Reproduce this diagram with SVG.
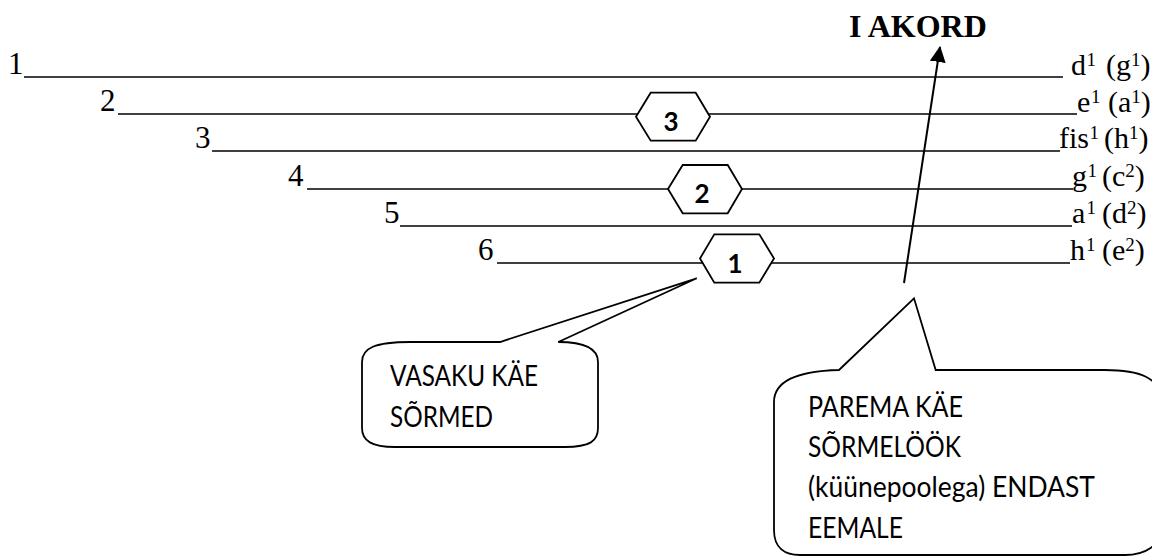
<svg xmlns="http://www.w3.org/2000/svg" width="1152" height="558" viewBox="0 0 1152 558">
<style>
.str{stroke:#000;stroke-width:1.4;fill:none}
.tnr{font-family:"Liberation Serif","Times New Roman",serif;font-size:30px;fill:#000}
.num{font-size:31px}
.sup{font-size:19px}
.hex{fill:#fff;stroke:#000;stroke-width:1.8}
.hexnum{font-family:Lato,"Open Sans",sans-serif;font-weight:bold;font-size:26px;fill:#000;text-anchor:middle}
.call{fill:#fff;stroke:#000;stroke-width:1.8;stroke-linejoin:miter}
.ctext{font-family:Lato,"Open Sans",sans-serif;font-size:28.5px;fill:#000}
.title{font-family:"Liberation Serif","Times New Roman",serif;font-weight:bold;font-size:32px;fill:#000}
.arrow{stroke:#000;stroke-width:2;fill:none}
</style>
<defs>
<marker id="ah" markerUnits="userSpaceOnUse" markerWidth="16" markerHeight="16" refX="15" refY="8" orient="auto">
<path d="M0,0 L16,8 L0,16 Z" fill="#000"/>
</marker>
</defs>
<rect width="1152" height="558" fill="#fff"/>

<g id="title"><text class="title" x="849" y="37">I AKORD</text></g>

<g id="strings">
<g id="string1">
<text class="tnr num" x="8" y="74">1</text>
<line class="str" x1="24" y1="77" x2="1063" y2="77"/>
<text class="tnr" y="74.5"><tspan x="1071">d</tspan><tspan class="sup" x="1086.5" dy="-9">1</tspan><tspan x="1106" dy="9">(g</tspan><tspan class="sup" dy="-9">1</tspan><tspan dy="9">)</tspan></text>
</g>
<g id="string2">
<text class="tnr num" x="100" y="111">2</text>
<line class="str" x1="118" y1="114" x2="1077" y2="114"/>
<text class="tnr" y="111.5"><tspan x="1077">e</tspan><tspan class="sup" x="1091" dy="-9">1</tspan><tspan x="1108" dy="9">(a</tspan><tspan class="sup" dy="-9">1</tspan><tspan dy="9">)</tspan></text>
</g>
<g id="string3">
<text class="tnr num" x="195" y="148">3</text>
<line class="str" x1="212" y1="151" x2="1060" y2="151"/>
<text class="tnr" y="148"><tspan x="1059">fis</tspan><tspan class="sup" x="1089.5" dy="-9">1</tspan><tspan x="1104" dy="9">(h</tspan><tspan class="sup" dy="-9">1</tspan><tspan dy="9">)</tspan></text>
</g>
<g id="string4">
<text class="tnr num" x="288" y="186">4</text>
<line class="str" x1="307" y1="189" x2="1073" y2="189"/>
<text class="tnr" y="186"><tspan x="1072">g</tspan><tspan class="sup" x="1087.5" dy="-9">1</tspan><tspan x="1102" dy="9">(c</tspan><tspan class="sup" dy="-9">2</tspan><tspan dy="9">)</tspan></text>
</g>
<g id="string5">
<text class="tnr num" x="384" y="223">5</text>
<line class="str" x1="400" y1="226" x2="1072" y2="226"/>
<text class="tnr" y="223"><tspan x="1072">a</tspan><tspan class="sup" x="1086.5" dy="-9">1</tspan><tspan x="1102" dy="9">(d</tspan><tspan class="sup" dy="-9">2</tspan><tspan dy="9">)</tspan></text>
</g>
<g id="string6">
<text class="tnr num" x="478" y="260">6</text>
<line class="str" x1="497" y1="263" x2="1070" y2="263"/>
<text class="tnr" y="260"><tspan x="1070">h</tspan><tspan class="sup" x="1086" dy="-9">1</tspan><tspan x="1102" dy="9">(e</tspan><tspan class="sup" dy="-9">2</tspan><tspan dy="9">)</tspan></text>
</g>
</g>

<g id="finger3">
<polygon class="hex" points="636,116.7 650.7,92.7 695.7,92.7 710,116.7 695.7,140.7 650.7,140.7"/>
<text class="hexnum" x="671" y="131">3</text>
</g>
<g id="finger2">
<polygon class="hex" points="668,189 682.7,165 727.7,165 742,189 727.7,213.3 682.7,213.3"/>
<text class="hexnum" x="702" y="203">2</text>
</g>
<g id="finger1">
<polygon class="hex" points="700,258.5 714.3,234.3 759.3,234.3 774,258.5 759.3,282.7 714.3,282.7"/>
<text class="hexnum" x="735" y="273">1</text>
</g>

<g id="callout-left">
<path class="call" d="M362,362 C362,348 375,342 410,342 L500,342 L696.7,278.3 L558.3,342 C588,342 598,350 598,362 L598,428 C598,441 590,447 565,447 L395,447 C372,447 362,441 362,428 Z"/>
<text class="ctext" x="390" y="386" textLength="148" lengthAdjust="spacingAndGlyphs">VASAKU KÄE</text>
<text class="ctext" x="390" y="426.7" textLength="103" lengthAdjust="spacingAndGlyphs">SÕRMED</text>
</g>

<g id="callout-right">
<path class="call" d="M774,402 C774,380 800,371 839,370 L914,298.3 L935.7,370 L1105,370 C1140,370 1160,378 1162,400 L1162,528 C1160,546 1145,555 1125,555 L800,555 C785,555 774,548 774,530 Z"/>
<text class="ctext" x="808" y="416.7" textLength="155" lengthAdjust="spacingAndGlyphs">PAREMA KÄE</text>
<text class="ctext" x="808" y="456.7" textLength="153" lengthAdjust="spacingAndGlyphs">SÕRMELÖÖK</text>
<text class="ctext" x="808" y="496.7" textLength="287" lengthAdjust="spacingAndGlyphs">(küünepoolega) ENDAST</text>
<text class="ctext" x="808" y="538" textLength="95" lengthAdjust="spacingAndGlyphs">EEMALE</text>
</g>

<g id="connectors">
<line class="arrow" x1="904" y1="283" x2="940" y2="47" marker-end="url(#ah)"/>
</g>
</svg>
